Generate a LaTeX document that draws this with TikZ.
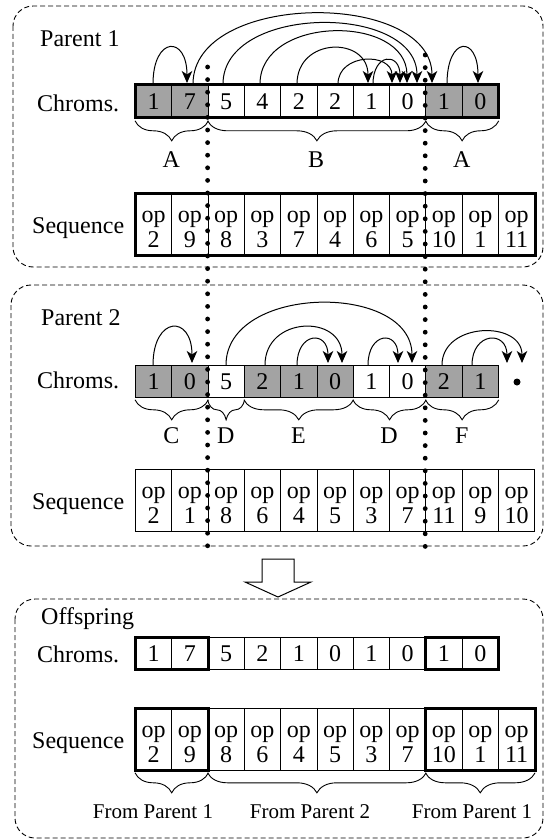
\documentclass[tikz,border=0pt]{standalone}
\usepackage{fontspec}
\setmainfont{Liberation Serif}
\newfontfamily\diagfont{Liberation Serif}
\usetikzlibrary{arrows.meta,decorations.pathreplacing,calc}

\begin{document}
\begin{tikzpicture}[x=1pt,y=-1pt,
  every node/.style={font=\diagfont\fontsize{24}{25}\selectfont, inner sep=0pt},
  cell/.style={draw, line width=0.8pt, minimum width=36.3pt, minimum height=32pt, anchor=north west},
  seqcell/.style={cell, minimum height=62pt},
  shade/.style={fill=black!36},
  plain/.style={},
  optext/.style={align=center, font=\diagfont\fontsize{24}{25}\selectfont},
  groupbox/.style={draw, line width=3pt},
  panel/.style={draw, line width=0.9pt, dash pattern=on 5pt off 3pt, rounded corners=20pt},
  jump/.style={line width=1pt, -{Stealth[length=12pt,width=10.5pt,inset=3.5pt]}},
  splitline/.style={line width=4.8pt, line cap=round, dash pattern=on 0pt off 12.6pt},
  brc/.style={decorate, decoration={brace, amplitude=20pt}, line width=0.9pt},
  tag/.style={anchor=base},
  fromtag/.style={anchor=base, font=\diagfont\fontsize{21}{24}\selectfont},
  title/.style={anchor=base west},
]
\useasboundingbox (0,0) rectangle (547,840);

% dashed panels
\draw[panel] (13,6) rectangle (543,267);
\draw[panel] (11,285) rectangle (543,546);
\draw[panel] (15,599) rectangle (543,838);

% ---------------- Parent 1 ----------------
\node[title] (t1) at (40,47) {Parent 1};
\node[title] (r1) at (37,112) {Chroms.};
\node[title] (q1) at (32,233) {Sequence};

\foreach \v/\s [count=\i from 0] in {1/shade,7/shade,5/plain,4/plain,2/plain,2/plain,1/plain,0/plain,1/shade,0/shade}
  \node[cell,\s] (pa\i) at (135+36.3*\i,85) {\v};
\draw[groupbox] (pa0.north west) rectangle (pa9.south east);

\foreach \v [count=\i from 0] in {2,9,8,3,7,4,6,5,10,1,11} {
  \node[seqcell] (ps\i) at (135+36.3*\i,193) {};
  \node[optext] (pst\i) at ($(ps\i.center)+(0,5)$) {op\\\v};
}
\draw[groupbox] (ps0.north west) rectangle (ps10.south east);

% jumps between genes of parent 1
\coordinate (u1s) at (153,84);  \coordinate (u1e) at (187,83);
\coordinate (u2s) at (193,84);  \coordinate (u2e) at (432,83);
\coordinate (u3s) at (223,84);  \coordinate (u3e) at (417,83);
\coordinate (u4s) at (260,84);  \coordinate (u4e) at (407,83);
\coordinate (u5s) at (297,84);  \coordinate (u5e) at (368,83);
\coordinate (u6s) at (338,84);  \coordinate (u6e) at (392,83);
\coordinate (u7s) at (373,84);  \coordinate (u7e) at (400,83);
\coordinate (u8s) at (447,84);  \coordinate (u8e) at (478,83);
\draw[jump] (u1s) .. controls +(0,-48) and +(0,-48) .. (u1e);
\draw[jump] (u2s) .. controls +(0,-93) and +(0,-93) .. (u2e);
\draw[jump] (u3s) .. controls +(0,-80) and +(0,-80) .. (u3e);
\draw[jump] (u4s) .. controls +(0,-69) and +(0,-69) .. (u4e);
\draw[jump] (u5s) .. controls +(0,-47) and +(0,-47) .. (u5e);
\draw[jump] (u6s) .. controls +(0,-31) and +(0,-31) .. (u6e);
\draw[jump] (u7s) .. controls +(0,-31) and +(0,-31) .. (u7e);
\draw[jump] (u8s) .. controls +(0,-48) and +(0,-48) .. (u8e);

\draw[brc] ($(pa1.south east)+(0,3)$) -- ($(pa0.south west)+(0,3)$);
\draw[brc] ($(pa7.south east)+(0,3)$) -- ($(pa2.south west)+(0,3)$);
\draw[brc] ($(pa9.south east)+(0,3)$) -- ($(pa8.south west)+(0,3)$);
\node[tag] (la1) at (171.3,167) {A};
\node[tag] (lb1) at (316.2,167) {B};
\node[tag] (la2) at (461.7,167) {A};

% ---------------- Parent 2 ----------------
\node[title] (t2) at (41,325) {Parent 2};
\node[title] (r2) at (37,388) {Chroms.};
\node[title] (q2) at (32,509) {Sequence};

\foreach \v/\s [count=\i from 0] in {1/shade,0/shade,5/plain,2/shade,1/shade,0/shade,1/plain,0/plain,2/shade,1/shade}
  \node[cell,\s] (pb\i) at (135+36.3*\i,365) {\v};
\node[circle, fill, minimum size=7pt] (pbend) at (517,382) {};

\foreach \v [count=\i from 0] in {2,1,8,6,4,5,3,7,11,9,10} {
  \node[seqcell] (qs\i) at (135+36.3*\i,469) {};
  \node[optext] (qst\i) at ($(qs\i.center)+(0,5)$) {op\\\v};
}

% jumps between genes of parent 2
\coordinate (v1s) at (153,365);  \coordinate (v1e) at (192,363);
\coordinate (v2s) at (226,365);  \coordinate (v2e) at (412,363);
\coordinate (v3s) at (265,365);  \coordinate (v3e) at (342,363);
\coordinate (v4s) at (297,365);  \coordinate (v4e) at (328,363);
\coordinate (v5s) at (368,365);  \coordinate (v5e) at (398,363);
\coordinate (v6s) at (442,365);  \coordinate (v6e) at (522,363);
\coordinate (v7s) at (472,365);  \coordinate (v7e) at (507,363);
\draw[jump] (v1s) .. controls +(0,-49) and +(0,-49) .. (v1e);
\draw[jump] (v2s) .. controls +(0,-81) and +(0,-81) .. (v2e);
\draw[jump] (v3s) .. controls +(0,-49) and +(0,-49) .. (v3e);
\draw[jump] (v4s) .. controls +(0,-33) and +(0,-33) .. (v4e);
\draw[jump] (v5s) .. controls +(0,-33) and +(0,-33) .. (v5e);
\draw[jump] (v6s) .. controls +(0,-43) and +(0,-43) .. (v6e);
\draw[jump] (v7s) .. controls +(0,-33) and +(0,-33) .. (v7e);

\draw[brc] ($(pb1.south east)+(0,2)$) -- ($(pb0.south west)+(0,2)$);
\draw[brc] ($(pb2.south east)+(0,2)$) -- ($(pb2.south west)+(0,2)$);
\draw[brc] ($(pb5.south east)+(0,2)$) -- ($(pb3.south west)+(0,2)$);
\draw[brc] ($(pb7.south east)+(0,2)$) -- ($(pb6.south west)+(0,2)$);
\draw[brc] ($(pb9.south east)+(0,2)$) -- ($(pb8.south west)+(0,2)$);
\node[tag] (lc) at (171.3,443) {C};
\node[tag] (ld1) at (225.8,443) {D};
\node[tag] (le) at (298.4,443) {E};
\node[tag] (ld2) at (389,443) {D};
\node[tag] (lf) at (461.7,443) {F};

% crossover cut points
\coordinate (cutAtop) at (207.6,67);  \coordinate (cutAbot) at (207.6,550);
\coordinate (cutBtop) at (425.2,55);  \coordinate (cutBbot) at (425.2,550);
\draw[splitline] (cutAtop) -- (cutAbot);
\draw[splitline] (cutBtop) -- (cutBbot);

% hollow arrow down to the offspring
\draw[line width=1pt, fill=white, line join=miter]
  (262,559) -- (294,559) -- (294,582) -- (311,582) -- (278,597) -- (245,582) -- (262,582) -- cycle;

% ---------------- Offspring ----------------
\node[title] (t3) at (41,624) {Offspring};
\node[title] (r3) at (37,662) {Chroms.};
\node[title] (q3) at (32,748) {Sequence};

\foreach \v [count=\i from 0] in {1,7,5,2,1,0,1,0,1,0}
  \node[cell] (oc\i) at (135+36.3*\i,637) {\v};
\draw[groupbox] (oc0.north west) rectangle (oc1.south east);
\draw[groupbox] (oc8.north west) rectangle (oc9.south east);

\foreach \v [count=\i from 0] in {2,9,8,6,4,5,3,7,10,1,11} {
  \node[seqcell] (os\i) at (135+36.3*\i,708) {};
  \node[optext] (ost\i) at ($(os\i.center)+(0,5)$) {op\\\v};
}
\draw[groupbox] (os0.north west) rectangle (os1.south east);
\draw[groupbox] (os8.north west) rectangle (os10.south east);

\draw[brc] ($(os1.south east)+(0,2)$) -- ($(os0.south west)+(0,2)$);
\draw[brc] ($(os7.south east)+(0,2)$) -- ($(os2.south west)+(0,2)$);
\draw[brc] ($(os10.south east)+(0,2)$) -- ($(os8.south west)+(0,2)$);
\node[fromtag] (f1) at (153,818) {From Parent 1};
\node[fromtag] (f2) at (310,818) {From Parent 2};
\node[fromtag] (f3) at (472,818) {From Parent 1};
\end{tikzpicture}
\end{document}
